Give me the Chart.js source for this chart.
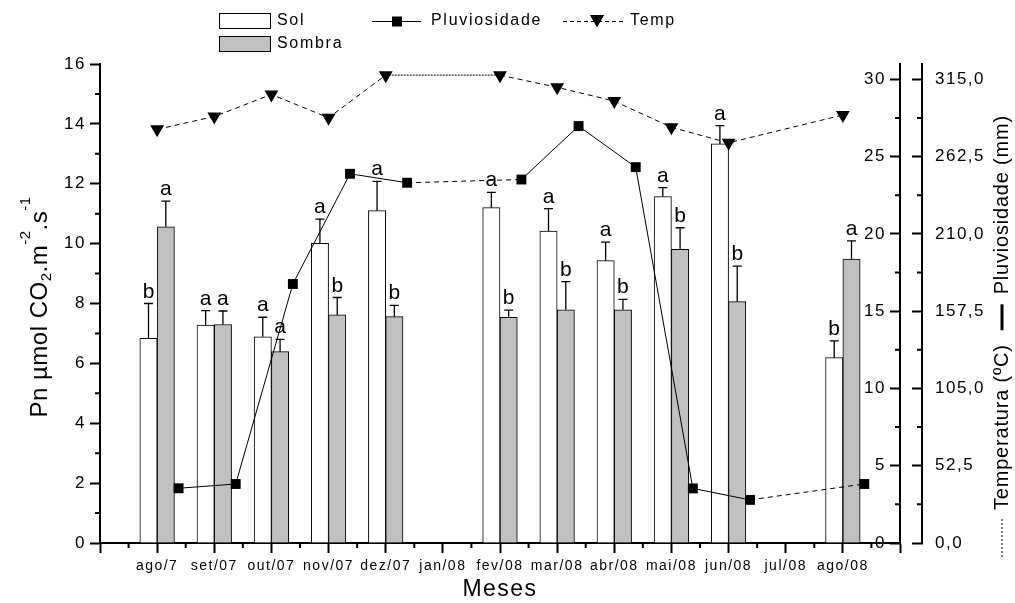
<!DOCTYPE html>
<html>
<head>
<meta charset="utf-8">
<title>Pn - Sol e Sombra</title>
<script src="https://cdn.jsdelivr.net/npm/chart.js"></script>
<style>
  html, body { margin: 0; padding: 0; background: #fff; }
  #wrap { width: 1015px; height: 603px; position: relative; }
</style>
</head>
<body>
<div id="wrap"><canvas id="chart"></canvas></div>
<script>
// Months on the x axis (no measurements in jan/08 and jul/08)
const months = ['ago/7', 'set/07', 'out/07', 'nov/07', 'dez/07', 'jan/08', 'fev/08',
                'mar/08', 'abr/08', 'mai/08', 'jun/08', 'jul/08', 'ago/08'];

// Pn (µmol CO2 m-2 s-1) and standard error
const sol       = [6.84, 7.28, 6.89, 10.01, 11.10, null, 11.20, 10.42, 9.43, 11.57, 13.33, null, 6.19];
const solErr    = [1.16, 0.48, 0.65, 0.81, 0.98, null, 0.51, 0.75, 0.62, 0.30, 0.61, null, 0.56];
const sombra    = [10.56, 7.30, 6.39, 7.62, 7.56, null, 7.54, 7.79, 7.79, 9.81, 8.06, null, 9.48];
const sombraErr = [0.86, 0.45, 0.41, 0.58, 0.38, null, 0.24, 0.94, 0.35, 0.72, 1.19, null, 0.61];

// letters of the means test
const solLetters    = ['b', 'a', 'a', 'a', 'a', null, 'a', 'a', 'a', 'a', 'a', null, 'b'];
const sombraLetters = ['a', 'a', 'a', 'b', 'b', null, 'b', 'b', 'b', 'b', 'b', null, 'a'];

// rainfall (mm) and temperature (ºC)
const pluviosidade = [37.2, 40.1, 176.0, 250.9, 244.8, null, 247.0, 283.3, 255.4, 37.1, 29.3, null, 40.1];
const temperatura  = [26.77, 27.6, 29.03, 27.52, 30.28, null, 30.28, 29.49, 28.6, 26.9, 25.9, null, 27.7];

// tick values
const xTicks    = [0, 1, 2, 3, 4, 5, 6, 7, 8, 9, 10, 11, 12, 13, 14];
const pnTicks   = [0, 2, 4, 6, 8, 10, 12, 14, 16];
const tempTicks = [0, 5, 10, 15, 20, 25, 30];
const rainTicks = [0, 52.5, 105, 157.5, 210, 262.5, 315];

const FONT = '"Liberation Sans", Arial, Helvetica, sans-serif';
const BAR_PX = 17.3;        // width of one bar
const RAIN_SHIFT = 0.375;   // rainfall markers sit to the right of each group
const JAN = months.indexOf('jan/08') + 1;

Chart.defaults.font.family = FONT;
Chart.defaults.color = '#000';

function points(values, extra, shift) {
    const out = [];
    values.forEach((v, i) => {
        if (v === null) return;
        const p = { x: i + 1 + (shift || 0), y: v };
        if (extra) Object.assign(p, extra(i));
        out.push(p);
    });
    return out;
}

function midpoints(ticks) {
    const m = [];
    for (let i = 1; i < ticks.length; i++) m.push((ticks[i - 1] + ticks[i]) / 2);
    return m;
}

const skipsMonth = ctx => ctx.p1.parsed.x - ctx.p0.parsed.x > 1.5;

// text spacing like the original export
const spacing = {
    id: 'spacing',
    beforeDraw(chart) {
        chart.ctx.letterSpacing = '1.5px';
    }
};

// error bars and letters, drawn right after each bar dataset
const errorBars = {
    id: 'errorBars',
    afterDatasetDraw(chart, args) {
        const ds = chart.data.datasets[args.index];
        if (ds.type !== 'bar') return;
        const ctx = chart.ctx;
        const yScale = chart.scales.y;
        ctx.save();
        ctx.strokeStyle = '#000';
        ctx.fillStyle = '#000';
        ctx.lineWidth = 1.3;
        ctx.letterSpacing = '0px';
        ctx.font = '21px ' + FONT;
        ctx.textAlign = 'center';
        ctx.textBaseline = 'alphabetic';
        args.meta.data.forEach((bar, i) => {
            const p = ds.data[i];
            const top = yScale.getPixelForValue(p.y + p.err);
            ctx.beginPath();
            ctx.moveTo(bar.x, bar.y);
            ctx.lineTo(bar.x, top);
            ctx.moveTo(bar.x - 4.5, top);
            ctx.lineTo(bar.x + 4.5, top);
            ctx.stroke();
            if (p.letter) ctx.fillText(p.letter, bar.x, top - 6);
        });
        ctx.restore();
    }
};

// minor tick marks
const minorTicks = {
    id: 'minorTicks',
    afterDraw(chart) {
        const { x, y, yT, yP } = chart.scales;
        const ctx = chart.ctx;
        ctx.save();
        ctx.strokeStyle = '#000';
        ctx.lineWidth = 2;
        ctx.beginPath();
        midpoints(xTicks).forEach(v => {
            const px = x.getPixelForValue(v);
            ctx.moveTo(px, x.top);
            ctx.lineTo(px, x.top + 5);
        });
        midpoints(pnTicks).forEach(v => {
            const py = y.getPixelForValue(v);
            ctx.moveTo(y.right, py);
            ctx.lineTo(y.right - 5, py);
        });
        midpoints(tempTicks).forEach(v => {
            const py = yT.getPixelForValue(v);
            ctx.moveTo(yT.left, py);
            ctx.lineTo(yT.left - 5, py);
        });
        midpoints(rainTicks).forEach(v => {
            const py = yP.getPixelForValue(v);
            ctx.moveTo(yP.left, py);
            ctx.lineTo(yP.left - 5, py);
        });
        ctx.stroke();
        ctx.restore();
    }
};

// legend at the top, two rows
const legendBox = {
    id: 'legendBox',
    afterDraw(chart) {
        const ctx = chart.ctx;
        const ds = chart.data.datasets;
        const label = t => ds.find(d => d.id === t).label;
        ctx.save();
        ctx.letterSpacing = '1.7px';
        ctx.font = '16px ' + FONT;
        ctx.textBaseline = 'middle';
        ctx.textAlign = 'left';
        ctx.strokeStyle = '#000';
        ctx.lineWidth = 1;

        ctx.fillStyle = '#fff';
        ctx.fillRect(219.5, 13.5, 51, 15);
        ctx.strokeRect(219.5, 13.5, 51, 15);
        ctx.fillStyle = '#c0c0c0';
        ctx.fillRect(219.5, 36.5, 51, 15);
        ctx.strokeRect(219.5, 36.5, 51, 15);

        ctx.fillStyle = '#000';
        ctx.fillText(label('sol'), 277, 21);
        ctx.fillText(label('sombra'), 277, 44);

        ctx.beginPath();
        ctx.moveTo(372, 21.5);
        ctx.lineTo(421, 21.5);
        ctx.stroke();
        ctx.fillRect(392, 16.5, 10, 10);
        ctx.fillText(label('rain'), 431, 21);

        ctx.setLineDash([4, 3]);
        ctx.beginPath();
        ctx.moveTo(563, 21.5);
        ctx.lineTo(623, 21.5);
        ctx.stroke();
        ctx.setLineDash([]);
        Chart.helpers.drawPoint(ctx, { pointStyle: 'triangle', rotation: 180, radius: 8, borderWidth: 0 }, 597, 19);
        ctx.fill();
        ctx.fillText(label('temp'), 630, 21);
        ctx.restore();
    }
};

// rotated axis titles
const axisTitles = {
    id: 'axisTitles',
    afterDraw(chart) {
        const ctx = chart.ctx;
        ctx.save();
        ctx.fillStyle = '#000';
        ctx.strokeStyle = '#000';
        ctx.letterSpacing = '0.5px';
        ctx.textBaseline = 'alphabetic';
        ctx.textAlign = 'left';

        // left: Pn µmol CO2.m-2.s-1
        const parts = [
            { t: 'Pn µmol CO', size: 24, dy: 0 },
            { t: '2', size: 15, dy: 4 },
            { t: '.m', size: 24, dy: 0 },
            { t: '-2', size: 15, dy: -17 },
            { t: '.s', size: 24, dy: 0 },
            { t: '-1', size: 15, dy: -17 }
        ];
        let total = 0;
        parts.forEach(p => {
            ctx.font = p.size + 'px ' + FONT;
            p.w = ctx.measureText(p.t).width;
            total += p.w;
        });
        ctx.save();
        ctx.translate(38, 307);
        ctx.rotate(-Math.PI / 2);
        let u = -total / 2;
        parts.forEach(p => {
            ctx.font = p.size + 'px ' + FONT;
            ctx.fillText(p.t, u, 9 + p.dy);
            u += p.w;
        });
        ctx.restore();

        // right: ---- Temperatura (ºC) ▬ Pluviosidade (mm)
        ctx.save();
        ctx.translate(1002, 557);
        ctx.rotate(-Math.PI / 2);
        ctx.font = '20px ' + FONT;
        ctx.letterSpacing = '0.8px';
        ctx.textBaseline = 'middle';
        ctx.lineWidth = 1;
        ctx.setLineDash([2, 2]);
        ctx.beginPath();
        ctx.moveTo(0, 0);
        ctx.lineTo(39, 0);
        ctx.stroke();
        ctx.setLineDash([]);
        const t1 = 'Temperatura (ºC)';
        ctx.fillText(t1, 47, 0);
        const s = 47 + ctx.measureText(t1).width + 14;
        ctx.lineWidth = 3;
        ctx.beginPath();
        ctx.moveTo(s, 0);
        ctx.lineTo(s + 26, 0);
        ctx.stroke();
        ctx.fillText('Pluviosidade (mm)', s + 36, 0);
        ctx.restore();

        ctx.restore();
    }
};

const tickGrid = len => ({
    drawOnChartArea: false,
    tickLength: len,
    tickWidth: 2,
    tickColor: '#000'
});
const axisBorder = { display: true, color: '#000', width: 2 };
const fixedTicks = list => scale => { scale.ticks = list.map(v => ({ value: v })); };

new Chart(document.getElementById('chart'), {
    type: 'bar',
    data: {
        datasets: [
            {
                id: 'rain',
                type: 'line',
                label: 'Pluviosidade',
                data: points(pluviosidade, null, RAIN_SHIFT),
                yAxisID: 'yP',
                order: 0,
                borderColor: '#000',
                borderWidth: 1,
                pointStyle: 'rect',
                pointRadius: 7,
                pointBackgroundColor: '#000',
                pointBorderColor: '#000',
                pointBorderWidth: 0,
                segment: { borderDash: ctx => skipsMonth(ctx) ? [5, 4] : undefined }
            },
            {
                id: 'temp',
                type: 'line',
                label: 'Temp',
                data: points(temperatura),
                yAxisID: 'yT',
                order: 0,
                borderColor: '#000',
                borderWidth: 1,
                borderDash: [5, 4],
                pointStyle: 'triangle',
                pointRotation: 180,
                pointRadius: 8,
                pointBackgroundColor: '#000',
                pointBorderColor: '#000',
                pointBorderWidth: 0,
                segment: {
                    borderDash: ctx => (skipsMonth(ctx) && ctx.p0.parsed.x < JAN && ctx.p1.parsed.x > JAN) ? [2, 1] : undefined
                }
            },
            {
                id: 'sol',
                type: 'bar',
                label: 'Sol',
                data: points(sol, i => ({ err: solErr[i], letter: solLetters[i] })),
                yAxisID: 'y',
                order: 1,
                backgroundColor: '#ffffff',
                borderColor: '#000',
                borderWidth: 1,
                barThickness: BAR_PX
            },
            {
                id: 'sombra',
                type: 'bar',
                label: 'Sombra',
                data: points(sombra, i => ({ err: sombraErr[i], letter: sombraLetters[i] })),
                yAxisID: 'y',
                order: 1,
                backgroundColor: '#c0c0c0',
                borderColor: '#000',
                borderWidth: 1,
                barThickness: BAR_PX
            }
        ]
    },
    options: {
        responsive: true,
        maintainAspectRatio: false,
        animation: false,
        events: [],
        layout: { padding: { top: 64, left: 0, right: 0, bottom: 0 } },
        plugins: {
            legend: { display: false },
            tooltip: { enabled: false }
        },
        scales: {
            x: {
                type: 'linear',
                position: 'bottom',
                min: 0,
                max: 14,
                offset: false,
                afterBuildTicks: fixedTicks(xTicks),
                afterFit: s => { s.height = 60; },
                grid: Object.assign(tickGrid(10), { offset: false }),
                border: axisBorder,
                ticks: {
                    autoSkip: false,
                    maxRotation: 0,
                    padding: 5,
                    font: { size: 14 },
                    callback: v => months[v - 1] || ''
                },
                title: {
                    display: true,
                    text: 'Meses',
                    font: { size: 23 },
                    padding: { top: 0, bottom: 0 }
                }
            },
            y: {
                type: 'linear',
                position: 'left',
                min: 0,
                max: 16,
                afterBuildTicks: fixedTicks(pnTicks),
                afterFit: s => { s.width = 100; },
                grid: tickGrid(10),
                border: axisBorder,
                ticks: { padding: 4, font: { size: 17 } }
            },
            yT: {
                type: 'linear',
                position: 'right',
                min: 0,
                max: 31,
                afterBuildTicks: fixedTicks(tempTicks),
                afterFit: s => { s.width = 22; },
                grid: tickGrid(-10),
                border: axisBorder,
                ticks: { mirror: true, padding: -14, font: { size: 17 } }
            },
            yP: {
                type: 'linear',
                position: 'right',
                min: 0,
                max: 325.5,
                afterBuildTicks: fixedTicks(rainTicks),
                afterFit: s => { s.width = 93; },
                grid: tickGrid(-10),
                border: axisBorder,
                ticks: {
                    padding: 23,
                    font: { size: 17 },
                    callback: v => v.toFixed(1).replace('.', ',')
                }
            }
        }
    },
    plugins: [spacing, errorBars, minorTicks, legendBox, axisTitles]
});
</script>
</body>
</html>
